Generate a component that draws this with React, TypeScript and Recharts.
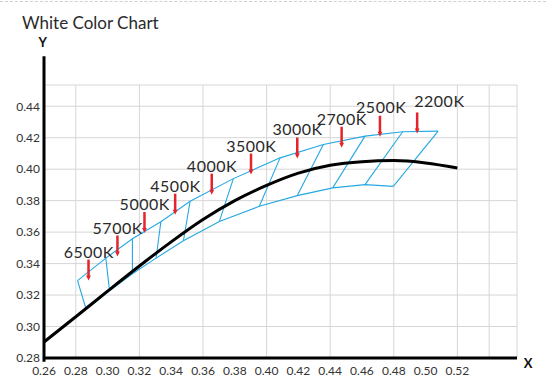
import { ComposedChart, Line, Scatter, XAxis, YAxis, CartesianGrid, ReferenceLine } from 'recharts';

const FONT = 'Lato, "Open Sans", sans-serif';
const BLUE = '#25a8e2';
const RED = '#e3242b';

// axes
const xTicks = [0.26, 0.28, 0.3, 0.32, 0.34, 0.36, 0.38, 0.4, 0.42, 0.44, 0.46, 0.48, 0.5, 0.52, 0.54];
const yTicks = [0.28, 0.3, 0.32, 0.34, 0.36, 0.38, 0.4, 0.42, 0.44];

// black-body curve
const locusX = [0.26, 0.28, 0.3, 0.32, 0.34, 0.36, 0.38, 0.4, 0.42, 0.44, 0.46, 0.48, 0.5, 0.52];
const locusY = [0.2902, 0.3062, 0.3225, 0.3385, 0.3538, 0.368, 0.38, 0.3897, 0.3975, 0.4025, 0.4048, 0.4055, 0.404, 0.4008];

// bin corners (upper and lower edge)
const binUpperX = [0.2811, 0.2989, 0.3156, 0.3335, 0.3519, 0.3791, 0.4085, 0.4357, 0.4619, 0.4856, 0.5079];
const binUpperY = [0.3292, 0.3435, 0.3558, 0.3666, 0.3796, 0.394, 0.4072, 0.4157, 0.421, 0.4238, 0.4242];
const binLowerX = [0.2865, 0.3012, 0.3156, 0.3305, 0.3477, 0.3703, 0.3954, 0.4193, 0.4416, 0.4619, 0.4797];
const binLowerY = [0.311, 0.3227, 0.3335, 0.3435, 0.3545, 0.3668, 0.3764, 0.3832, 0.3881, 0.3902, 0.3891];

// colour temperature markers (arrow tips)
const cctNames = ['6500K', '5700K', '5000K', '4500K', '4000K', '3500K', '3000K', '2700K', '2500K', '2200K'];
const cctX = [0.288, 0.3062, 0.3232, 0.3425, 0.3655, 0.3902, 0.4193, 0.4472, 0.4713, 0.4947];
const cctY = [0.3292, 0.3445, 0.3594, 0.3711, 0.3838, 0.3966, 0.4068, 0.4136, 0.4206, 0.4227];

const labelShift: Record<string, [number, number]> = { '2200K': [22, -3], '2500K': [1, -1] };

function ArrowMark(props: any) {
  const { cx, cy, payload } = props;
  const [dx, dy] = labelShift[payload.name] || [0, 0];
  return (
    <g>
      <line x1={cx} y1={cy - 21} x2={cx} y2={cy - 4} stroke={RED} strokeWidth={2.5} />
      <path d={`M${cx - 2.4},${cy - 5} L${cx + 2.4},${cy - 5} L${cx},${cy} Z`} fill={RED} />
      <text
        x={cx + dx + 0.25}
        y={cy - 23 + dy}
        textAnchor="middle"
        fontSize={16}
        letterSpacing={0.5}
        fill="#2a2a2a"
        fontFamily={FONT}
      >
        {payload.name}
      </text>
    </g>
  );
}

export default function App() {
  const locus = locusX.map((x, i) => ({ x, y: locusY[i] }));
  const upper = binUpperX.map((x, i) => ({ x, y: binUpperY[i] }));
  const lower = binLowerX.map((x, i) => ({ x, y: binLowerY[i] }));
  const dividers = upper.map((u, i) => [u, lower[i]]);
  const arrows = cctNames.map((name, i) => ({ name, x: cctX[i], y: cctY[i] }));

  return (
    <div style={{ position: 'absolute', left: 0, top: 0, width: 546, height: 385, background: '#fff' }}>
      <div style={{ position: 'absolute', left: 0, top: 1, width: 546, borderTop: '1px dashed #cfcfcf' }} />
      <ComposedChart width={546} height={385} margin={{ top: 85, right: 29, bottom: 7, left: 0 }}>
        <CartesianGrid stroke="#d6d6d6" strokeWidth={1} />
        <XAxis
          type="number"
          dataKey="x"
          domain={[0.26, 0.5575]}
          ticks={xTicks}
          allowDataOverflow
          tickFormatter={(v: number) => (v > 0.53 ? '' : v.toFixed(2))}
          axisLine={{ stroke: '#000', strokeWidth: 3 }}
          tickLine={false}
          tickSize={0}
          tickMargin={8}
          height={20}
          tick={{ fill: '#333', fontSize: 12, fontFamily: FONT }}
        />
        <YAxis
          type="number"
          dataKey="y"
          domain={[0.28, 0.4535]}
          ticks={yTicks}
          allowDataOverflow
          tickFormatter={(v: number) => v.toFixed(2)}
          axisLine={false}
          tickLine={false}
          tickSize={0}
          tickMargin={4}
          width={44}
          tick={{ fill: '#333', fontSize: 12, fontFamily: FONT }}
        />
        <Line data={upper} dataKey="y" type="linear" stroke={BLUE} strokeWidth={1.1} dot={false} activeDot={false} isAnimationActive={false} />
        <Line data={lower} dataKey="y" type="linear" stroke={BLUE} strokeWidth={1.1} dot={false} activeDot={false} isAnimationActive={false} />
        {dividers.map((seg, i) => (
          <Line key={'d' + i} data={seg} dataKey="y" type="linear" stroke={BLUE} strokeWidth={1.1} dot={false} activeDot={false} isAnimationActive={false} />
        ))}
        <Line data={locus} dataKey="y" type="monotone" stroke="#000" strokeWidth={3} dot={false} activeDot={false} isAnimationActive={false} />
        <ReferenceLine
          segment={[{ x: 0.26, y: 0.2776 }, { x: 0.26, y: 0.4717 }]}
          ifOverflow="visible"
          stroke="#000"
          strokeWidth={3}
        />
        <Scatter data={arrows} dataKey="y" shape={ArrowMark} isAnimationActive={false} />
      </ComposedChart>
      <svg width={546} height={385} style={{ position: 'absolute', left: 0, top: 0, pointerEvents: 'none' }}>
        <text x={22} y={28.7} fontSize={17} fill="#2a2a2a" fontFamily={FONT}>White Color Chart</text>
        <text x={42.8} y={47.3} fontSize={13} fontWeight="bold" fill="#111" textAnchor="middle" fontFamily={FONT}>Y</text>
        <text x={528} y={368.3} fontSize={13} fontWeight="bold" fill="#111" textAnchor="middle" fontFamily={FONT}>X</text>
      </svg>
    </div>
  );
}
